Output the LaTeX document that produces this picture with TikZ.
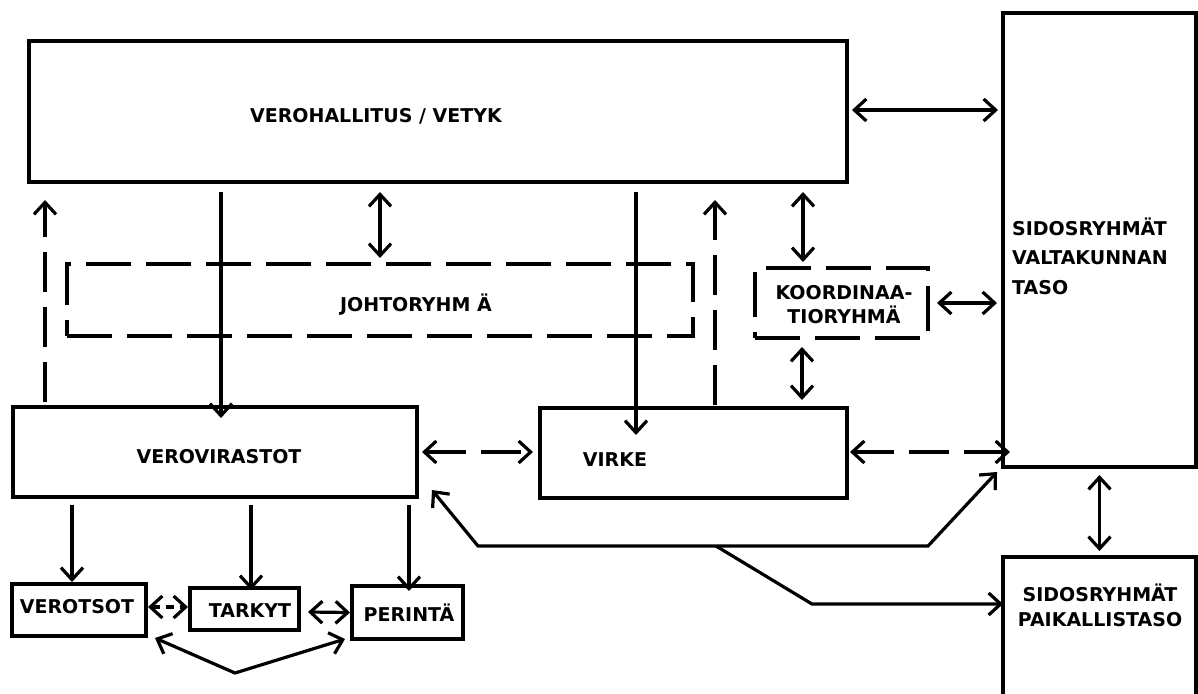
\documentclass[tikz,border=0pt]{standalone}
\usepackage{fontspec}
\setmainfont{DejaVu Sans}
\usetikzlibrary{arrows.meta,calc}
\begin{document}
\begin{tikzpicture}[x=1pt,y=-1pt,
  box/.style={draw, line width=3.2pt, inner sep=0pt, outer sep=0pt},
  dbox/.style={box, dash pattern=on 45pt off 15pt},
  lbl/.style={font=\fontsize{19}{23}\selectfont\bfseries, inner sep=0pt},
  conn/.style={line width=3.2pt},
  tip/.tip={Straight Barb[length=12pt,width=22pt]},
  arr/.style={conn, -tip},
  dbl/.style={conn, tip-tip},
  dsh/.style={dash pattern=on 40pt off 15pt},
]
\useasboundingbox (0,0) rectangle (1198,693);

% boxes
\node[box, minimum width=818pt, minimum height=141pt] (vh) at (438,111.5) {};
\node[box, minimum width=193pt, minimum height=454pt] (sv) at (1099.5,240) {};
\node[dbox, minimum width=626pt, minimum height=72pt] (jr) at (380,300) {};
\node[dbox, minimum width=173pt, minimum height=70pt] (ko) at (841.5,303) {};
\node[box, minimum width=404pt, minimum height=90pt] (vv) at (215,452) {};
\node[box, minimum width=307pt, minimum height=90pt] (vi) at (693.5,453) {};
\node[box, minimum width=134pt, minimum height=52pt] (vo) at (79,610) {};
\node[box, minimum width=109pt, minimum height=42pt] (ta) at (244.5,609) {};
\node[box, minimum width=111pt, minimum height=53pt] (pe) at (407.5,612.5) {};
\node[box, minimum width=193pt, minimum height=139pt] (sp) at (1099.5,626.5) {};

% texts
\node[lbl] (vhT) at (376,116) {VEROHALLITUS / VETYK};
\node[lbl, align=left, anchor=west, font=\fontsize{19}{29.5}\selectfont\bfseries] (svT) at (1012,256) {SIDOSRYHMÄT\\VALTAKUNNAN\\TASO};
\node[lbl] (jrT) at (416,305) {JOHTORYHM Ä};
\node[lbl, align=center, font=\fontsize{19}{24}\selectfont\bfseries] (koT) at (844,305) {KOORDINAA-\\TIORYHMÄ};
\node[lbl] (vvT) at (219,457) {VEROVIRASTOT};
\node[lbl] (viT) at (615,460) {VIRKE};
\node[lbl] (voT) at (77,607) {VEROTSOT};
\node[lbl] (taT) at (250,611) {TARKYT};
\node[lbl] (peT) at (409,613) {PERINTÄ};
\node[lbl, align=center, font=\fontsize{19}{25}\selectfont\bfseries] (spT) at (1100,605) {SIDOSRYHMÄT\\PAIKALLISTASO};

% connectors
\draw[dbl] ($(vh.east)+(5,-1.5)$) -- ($(vh.east -| sv.west)+(-5,-1.5)$);
\draw[arr, dsh] ($(vv.north west)+(32,-5)$) -- ($(vh.south west)+(16,18)$);
\draw[arr] ($(vh.south west)+(192,10)$) -- ($(vv.north west)+(208,11)$);
\draw[dbl] ($(vh.south west)+(351,10)$) -- ($(jr.north west)+(313,-6)$);
\draw[arr] ($(vh.south west)+(607,10)$) -- ($(vi.north west)+(96,27)$);
\draw[arr, dsh] ($(vi.north west)+(175,-3)$) -- ($(vh.south west)+(686,18)$);
\draw[dbl] ($(vh.south east)+(-44,10)$) -- ($(ko.north west)+(48,-6)$);
\draw[dbl] ($(ko.south west)+(47,9)$) -- ($(vi.north east)+(-45,-8)$);
\draw[dbl] ($(ko.east)+(9,0)$) -- ($(ko.east -| sv.west)+(-6,0)$);
\draw[dbl, dsh] ($(vv.east)+(5,0)$) -- ($(vi.west)+(-7,-1)$);
\draw[dbl, dsh] ($(vi.east)+(3,-1)$) -- ($(vi.east -| sv.west)+(7,-1)$);
\draw[dbl] ($(sv.south)+(0,8)$) -- ($(sp.north)+(0,-6)$);

\coordinate (c1) at (478,546);
\coordinate (c2) at (928,546);
\coordinate (fork) at (716,546);
\coordinate (c3) at (812,604);
\draw[dbl] ($(vv.south east)+(15,-7)$) -- (c1) -- (c2) -- ($(sv.south west)+(-6,5)$);
\draw[arr] (fork) -- (c3) -- (sp.west |- c3);

\draw[arr] ($(vv.south west)+(59,8)$) -- ($(vo.north west)+(60,-2)$);
\draw[arr] ($(vv.south west)+(238,8)$) -- ($(ta.north west)+(61,2)$);
\draw[arr] ($(vv.south west)+(396,8)$) -- ($(pe.north west)+(57,5)$);
\draw[dbl, dash pattern=on 8pt off 6pt] ($(vo.east)+(2,-3)$) -- ($(ta.west)+(-2,-2)$);
\draw[dbl] ($(ta.east)+(9,3)$) -- ($(pe.west)+(-2,0)$);
\coordinate (vb) at (235,673);
\draw[dbl] ($(vo.south east)+(9,2)$) -- (vb) -- ($(pe.south west)+(-7,0)$);
\end{tikzpicture}
\end{document}
